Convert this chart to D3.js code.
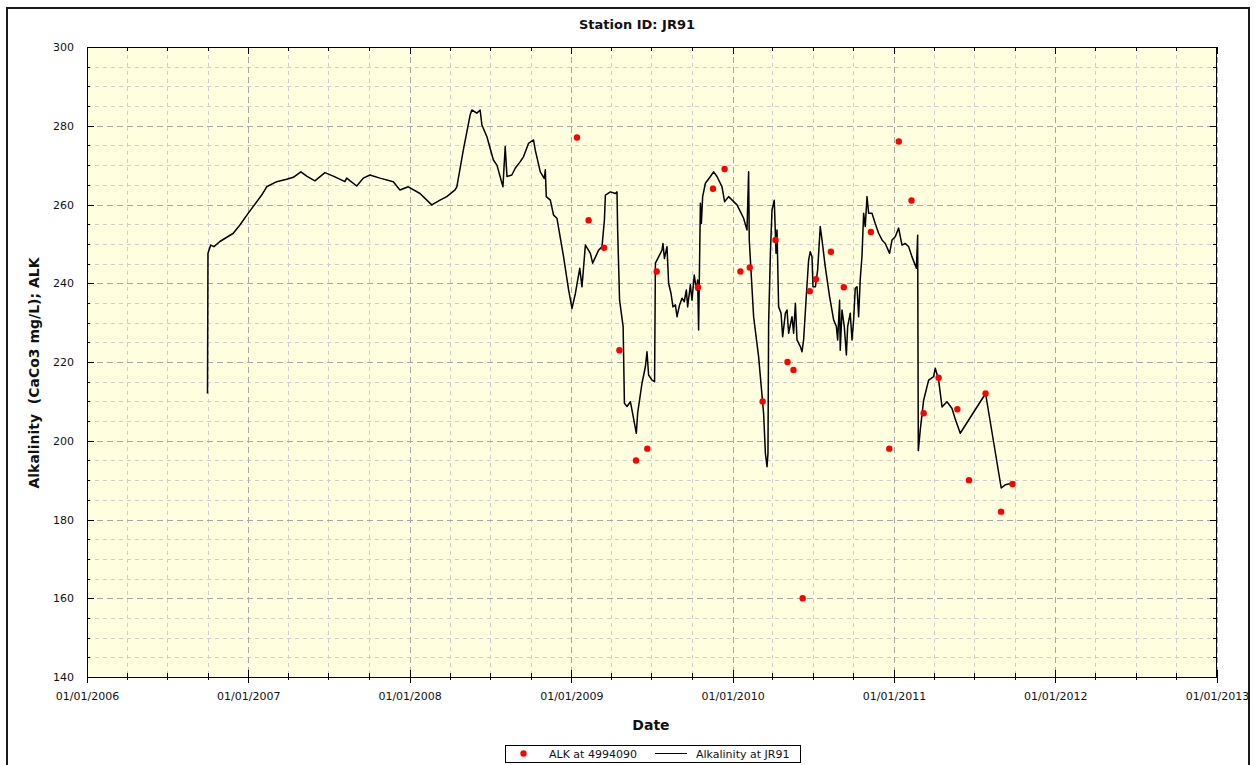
<!DOCTYPE html>
<html><head><meta charset="utf-8">
<script src="https://cdn.jsdelivr.net/npm/d3@7"></script>
<style>
body{margin:0;background:#fff;}
svg{display:block;font-family:"DejaVu Sans",Verdana,sans-serif;}
</style>
</head><body>
<script>
// ---------- data ----------
const chartTitle = "Station ID: JR91";
const xAxisTitle = "Date";
const yAxisTitle = "Alkalinity  (CaCo3 mg/L); ALK";
const xTickLabels = ["01/01/2006","01/01/2007","01/01/2008","01/01/2009","01/01/2010","01/01/2011","01/01/2012","01/01/2013"];
const yTickValues = [140,160,180,200,220,240,260,280,300];
const sampleSeriesName = "ALK at 4994090";
const lineSeriesName = "Alkalinity at JR91";

// lab samples (decimal year, value)
const sampleYears = [2009.035,2009.107,2009.203,2009.298,2009.401,2009.471,2009.529,2009.785,2009.878,2009.950,
  2010.048,2010.106,2010.186,2010.266,2010.340,2010.377,2010.434,2010.478,2010.516,2010.609,2010.689,2010.857,2010.971,
  2011.030,2011.109,2011.184,2011.277,2011.393,2011.465,2011.568,2011.664,2011.735];
const sampleValues = [277,256,249,223,195,198,243,239,264,269,
  243,244,210,251,220,218,160,238,241,248,239,253,198,
  276,261,207,216,208,190,212,182,189];

// continuous record (decimal year, value)
const alkalinitySeries = [
 [2006.747,212],[2006.750,247.6],[2006.767,249.7],[2006.787,249.3],[2006.824,250.6],[2006.907,252.7],[2006.948,254.8],
 [2007.000,257.8],[2007.083,262.4],[2007.114,264.5],[2007.176,265.8],[2007.238,266.4],[2007.279,266.9],[2007.326,268.3],
 [2007.362,267.2],[2007.413,266.0],[2007.475,268.1],[2007.527,267.2],[2007.599,265.8],[2007.610,266.7],[2007.672,264.7],
 [2007.713,266.7],[2007.754,267.5],[2007.816,266.7],[2007.899,265.8],[2007.940,263.7],[2007.992,264.5],[2008.064,262.8],
 [2008.137,259.9],[2008.188,261.1],[2008.230,262.0],[2008.281,263.7],[2008.292,264.5],[2008.332,273.8],[2008.374,282.7],
 [2008.385,284.0],[2008.416,283.2],[2008.436,284.0],[2008.447,280.2],[2008.478,277.2],[2008.518,271.3],[2008.540,270.0],
 [2008.577,264.5],[2008.591,274.7],[2008.602,267.1],[2008.632,267.5],[2008.653,269.2],[2008.684,270.9],[2008.704,272.1],
 [2008.735,275.5],[2008.766,276.4],[2008.777,273.8],[2008.808,268.3],[2008.833,266.6],[2008.839,268.8],[2008.845,262.0],
 [2008.870,261.1],[2008.890,257.3],[2008.911,256.5],[2008.952,246.7],[2008.983,238.3],[2009.004,233.6],[2009.025,237.4],
 [2009.052,243.8],[2009.066,239.1],[2009.087,249.7],[2009.118,247.6],[2009.132,245.1],[2009.169,248.4],[2009.190,249.3],
 [2009.205,256.1],[2009.211,262.4],[2009.242,263.2],[2009.273,262.8],[2009.283,263.2],[2009.287,253.5],[2009.299,235.7],
 [2009.321,229.0],[2009.329,209.5],[2009.345,208.7],[2009.366,209.9],[2009.376,207.8],[2009.403,201.9],[2009.411,207.0],
 [2009.438,214.6],[2009.459,218.8],[2009.469,222.6],[2009.479,216.7],[2009.500,215.4],[2009.516,215.0],[2009.521,245.1],
 [2009.541,246.7],[2009.562,248.4],[2009.568,250.1],[2009.577,246.3],[2009.593,249.3],[2009.603,240.0],[2009.618,237.4],
 [2009.630,234.0],[2009.645,234.5],[2009.655,231.5],[2009.671,234.5],[2009.686,236.2],[2009.700,235.3],[2009.713,238.3],
 [2009.721,234.0],[2009.738,239.6],[2009.748,235.7],[2009.762,242.1],[2009.775,238.3],[2009.783,240.8],[2009.789,228.1],
 [2009.800,260.3],[2009.806,255.2],[2009.814,262.0],[2009.831,265.4],[2009.862,267.1],[2009.882,268.3],[2009.903,267.1],
 [2009.934,264.5],[2009.950,260.7],[2009.975,262.0],[2010.027,259.9],[2010.048,258.2],[2010.068,256.5],[2010.089,253.5],
 [2010.099,268.3],[2010.103,251.0],[2010.130,231.5],[2010.161,221.3],[2010.192,206.9],[2010.203,196.8],[2010.213,193.4],
 [2010.219,196.8],[2010.223,229.8],[2010.234,247.6],[2010.244,258.6],[2010.258,261.1],[2010.269,247.6],[2010.275,253.5],
 [2010.285,234.0],[2010.300,232.4],[2010.310,226.4],[2010.327,232.4],[2010.337,233.2],[2010.347,227.3],[2010.368,231.5],
 [2010.378,227.3],[2010.389,234.9],[2010.399,225.6],[2010.420,223.9],[2010.430,222.6],[2010.440,225.6],[2010.455,235.7],
 [2010.471,245.9],[2010.481,248.0],[2010.492,246.7],[2010.498,239.1],[2010.513,239.1],[2010.527,243.4],[2010.543,254.4],
 [2010.554,251.0],[2010.574,244.2],[2010.601,236.6],[2010.626,230.7],[2010.643,229.0],[2010.651,225.6],[2010.663,235.7],
 [2010.667,223.0],[2010.678,233.2],[2010.692,229.0],[2010.705,221.8],[2010.713,229.0],[2010.729,232.4],[2010.740,225.6],
 [2010.750,230.7],[2010.760,238.7],[2010.771,239.1],[2010.781,231.5],[2010.791,241.0],[2010.802,247.0],[2010.812,257.8],
 [2010.822,254.4],[2010.833,262.0],[2010.843,257.8],[2010.864,257.8],[2010.884,255.2],[2010.905,252.7],[2010.926,251.0],
 [2010.946,250.1],[2010.973,247.6],[2010.988,251.0],[2011.008,251.8],[2011.029,254.0],[2011.050,249.7],[2011.070,250.1],
 [2011.091,249.3],[2011.112,246.7],[2011.139,243.8],[2011.147,252.2],[2011.151,197.5],[2011.163,202.7],[2011.184,210.3],
 [2011.215,215.4],[2011.246,216.3],[2011.256,218.4],[2011.271,216.3],[2011.277,215.4],[2011.298,208.6],[2011.329,209.9],
 [2011.360,208.2],[2011.380,205.5],[2011.411,201.9],[2011.568,212.0],[2011.665,188.0],[2011.690,188.8],[2011.735,189.2]
];

// ---------- helpers ----------
function yearToDate(yr){
  const Y = Math.floor(yr);
  const s = new Date(Y,0,1), e = new Date(Y+1,0,1);
  return new Date(+s + (yr - Y) * (e - s));
}
const parseLabel = d3.timeParse("%d/%m/%Y");
const fmtLabel = d3.timeFormat("%d/%m/%Y");

const W = 1257, H = 765;
const P = {left:87, top:47, right:1217, bottom:677};

const svg = d3.select("body").append("svg").attr("width",W).attr("height",H);

// outer frame
svg.append("rect").attr("x",7).attr("y",8).attr("width",1242).attr("height",800)
  .attr("fill","#fff").attr("stroke","#1a1a1a").attr("stroke-width",2);

const majorDates = xTickLabels.map(parseLabel);
const x = d3.scaleTime().domain([majorDates[0], majorDates[majorDates.length-1]]).range([P.left, P.right]);
const y = d3.scaleLinear().domain([yTickValues[0], yTickValues[yTickValues.length-1]]).range([P.bottom, P.top]);

const minorDates = d3.timeMonth.range(majorDates[0], majorDates[majorDates.length-1], 3).filter(d => d.getMonth() !== 0);
const minorY = d3.range(yTickValues[0], yTickValues[yTickValues.length-1], 5).filter(v => v % 20 !== 0);

// plot background
svg.append("rect").attr("x",P.left).attr("y",P.top).attr("width",P.right-P.left).attr("height",P.bottom-P.top)
  .attr("fill","#ffffe0");

const px = v => Math.round(v) + 0.5;
const grid = svg.append("g").attr("shape-rendering","crispEdges");
// minor grid
grid.selectAll(".mgx").data(minorDates).enter().append("line")
  .attr("x1",d=>px(x(d))).attr("x2",d=>px(x(d))).attr("y1",P.top).attr("y2",P.bottom)
  .attr("stroke","#cfcfcf").attr("stroke-dasharray","4,4");
grid.selectAll(".mgy").data(minorY).enter().append("line")
  .attr("y1",d=>px(y(d))).attr("y2",d=>px(y(d))).attr("x1",P.left).attr("x2",P.right)
  .attr("stroke","#cfcfcf").attr("stroke-dasharray","4,4");
// major grid
grid.selectAll(".Mgx").data(majorDates).enter().append("line")
  .attr("x1",d=>px(x(d))).attr("x2",d=>px(x(d))).attr("y1",P.top).attr("y2",P.bottom)
  .attr("stroke","#a8a8a8").attr("stroke-dasharray","6,4");
grid.selectAll(".Mgy").data(yTickValues).enter().append("line")
  .attr("y1",d=>px(y(d))).attr("y2",d=>px(y(d))).attr("x1",P.left).attr("x2",P.right)
  .attr("stroke","#a8a8a8").attr("stroke-dasharray","6,4");

// line series
const line = d3.line().x(d => x(yearToDate(d[0]))).y(d => y(d[1]));
svg.append("path").datum(alkalinitySeries).attr("d",line)
  .attr("fill","none").attr("stroke","#000").attr("stroke-width",1.5).attr("stroke-linejoin","round");

// samples
svg.append("g").selectAll("circle").data(sampleYears).enter().append("circle")
  .attr("cx",(d,i)=>x(yearToDate(d))).attr("cy",(d,i)=>y(sampleValues[i])).attr("r",3.2)
  .attr("fill","#ff0000");

// plot border
svg.append("rect").attr("x",P.left+0.5).attr("y",P.top+0.5).attr("width",P.right-P.left-1).attr("height",P.bottom-P.top)
  .attr("fill","none").attr("stroke","#000").attr("shape-rendering","crispEdges");

function styleAxis(g){
  g.select(".domain").remove();
  g.selectAll(".tick line").attr("stroke","#000").attr("shape-rendering","crispEdges");
}

// bottom axis (major, crossing ticks)
const gxM = svg.append("g").attr("transform",`translate(0,${P.bottom})`)
  .call(d3.axisBottom(x).tickValues(majorDates).tickFormat(fmtLabel).tickSize(6).tickSizeOuter(0));
styleAxis(gxM);
gxM.selectAll(".tick line").attr("y1",-7);
gxM.selectAll(".tick text").attr("y",23).attr("dy",null).attr("fill","#111")
  .style("font-size","11px").style("font-family","'DejaVu Sans',sans-serif");
const gxm = svg.append("g").attr("transform",`translate(0,${P.bottom})`)
  .call(d3.axisBottom(x).tickValues(minorDates).tickFormat("").tickSize(3).tickSizeOuter(0));
styleAxis(gxm);
gxm.selectAll(".tick line").attr("y1",-4);

// top opposite ticks (inward)
const gtM = svg.append("g").attr("transform",`translate(0,${P.top})`)
  .call(d3.axisTop(x).tickValues(majorDates).tickFormat("").tickSize(-7).tickSizeOuter(0));
styleAxis(gtM);
const gtm = svg.append("g").attr("transform",`translate(0,${P.top})`)
  .call(d3.axisTop(x).tickValues(minorDates).tickFormat("").tickSize(-4).tickSizeOuter(0));
styleAxis(gtm);

// left axis
const gyM = svg.append("g").attr("transform",`translate(${P.left},0)`)
  .call(d3.axisLeft(y).tickValues(yTickValues).tickSize(5).tickSizeOuter(0));
styleAxis(gyM);
gyM.selectAll(".tick line").attr("x2",7);
gyM.selectAll(".tick text").attr("x",-13).attr("fill","#111")
  .style("font-size","11px").style("font-family","'DejaVu Sans',sans-serif");
const gym = svg.append("g").attr("transform",`translate(${P.left},0)`)
  .call(d3.axisLeft(y).tickValues(minorY).tickFormat("").tickSize(3).tickSizeOuter(0));
styleAxis(gym);
gym.selectAll(".tick line").attr("x2",3);

// right opposite ticks (inward)
const grM = svg.append("g").attr("transform",`translate(${P.right},0)`)
  .call(d3.axisRight(y).tickValues(yTickValues).tickFormat("").tickSize(-7).tickSizeOuter(0));
styleAxis(grM);
const grm = svg.append("g").attr("transform",`translate(${P.right},0)`)
  .call(d3.axisRight(y).tickValues(minorY).tickFormat("").tickSize(-4).tickSizeOuter(0));
styleAxis(grm);

// titles
svg.append("text").attr("x",637).attr("y",29).attr("text-anchor","middle")
  .style("font-size","13px").style("font-weight","bold").attr("fill","#111").text(chartTitle);
svg.append("text").attr("x",651).attr("y",730).attr("text-anchor","middle")
  .style("font-size","14px").style("font-weight","bold").attr("fill","#111").text(xAxisTitle);
svg.append("text").attr("transform","translate(39,373) rotate(-90)").attr("text-anchor","middle")
  .style("font-size","14px").style("font-weight","bold").attr("fill","#111").attr("xml:space","preserve")
  .style("white-space","pre").text(yAxisTitle);

// legend
const lg = svg.append("g");
lg.append("rect").attr("x",505.5).attr("y",745.5).attr("width",295).attr("height",17)
  .attr("fill","#fff").attr("stroke","#000").attr("shape-rendering","crispEdges");
lg.append("circle").attr("cx",523.5).attr("cy",753.5).attr("r",3.2).attr("fill","#ff0000");
lg.append("text").attr("x",549).attr("y",758).style("font-size","11px").attr("fill","#111").text(sampleSeriesName);
lg.append("line").attr("x1",655).attr("x2",687).attr("y1",753.5).attr("y2",753.5).attr("stroke","#000").attr("stroke-width",1);
lg.append("text").attr("x",696).attr("y",758).style("font-size","11px").attr("fill","#111").text(lineSeriesName);
</script>
</body></html>
